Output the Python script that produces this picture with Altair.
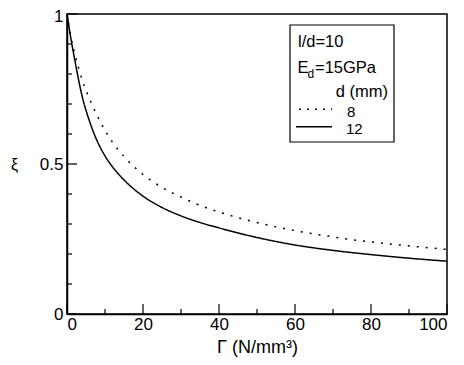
import altair as alt
import pandas as pd

# Data
gamma = [0, 1, 2, 4, 6, 8, 10, 12, 15, 20, 25, 30, 35, 40, 50, 60, 70, 80, 90, 100]
xi_d8 = [1.0, 0.925, 0.87, 0.78, 0.715, 0.66, 0.612, 0.572, 0.525, 0.465, 0.422,
         0.39, 0.362, 0.34, 0.305, 0.278, 0.257, 0.24, 0.227, 0.215]
xi_d12 = [1.0, 0.92, 0.85, 0.725, 0.64, 0.575, 0.527, 0.49, 0.447, 0.393, 0.355,
          0.327, 0.305, 0.287, 0.255, 0.23, 0.212, 0.198, 0.186, 0.176]
series = ["8", "12"]

x_major = [0, 20, 40, 60, 80, 100]
x_minor = [10, 30, 50, 70, 90]
y_major = [0, 0.5, 1]
y_minor = [0.1, 0.2, 0.3, 0.4, 0.6, 0.7, 0.8, 0.9]

W, H = 380, 300
FONT = "Liberation Sans"

df = pd.DataFrame({
    "gamma": gamma * 2,
    "xi": xi_d8 + xi_d12,
    "d": [series[0]] * len(gamma) + [series[1]] * len(gamma),
})

xscale = alt.Scale(domain=[0, 100], nice=False)
yscale = alt.Scale(domain=[0, 1], nice=False)

lines = alt.Chart(df).mark_line(strokeWidth=1.5, color="black", interpolate="monotone").encode(
    x=alt.X("gamma:Q", scale=xscale,
            axis=alt.Axis(title="Γ  (N/mm³)", values=x_major, ticks=False, tickSize=0,
                          labelPadding=2, titlePadding=6, grid=False, titleFontSize=18)),
    y=alt.Y("xi:Q", scale=yscale,
            axis=alt.Axis(title="ξ", values=y_major, format="~g", ticks=False, tickSize=0,
                          labelPadding=4, grid=False, titleAngle=0, titleX=-53, titleY=150,
                          titleAlign="center", titleBaseline="middle", titleFontSize=16,
                          labelOffset={"condition": {"test": "datum.value == 1", "value": 2},
                                       "value": 0})),
    strokeDash=alt.StrokeDash("d:N", scale=alt.Scale(domain=series, range=[[2, 7], [1, 0]]),
                              legend=None),
    detail="d:N",
)

def xticks(vals, length):
    return alt.Chart(pd.DataFrame({"v": vals})).mark_rule(color="black", strokeWidth=1.2).encode(
        x=alt.X("v:Q", scale=xscale), y=alt.value(H), y2=alt.value(H - length))

def yticks(vals, length):
    return alt.Chart(pd.DataFrame({"v": vals})).mark_rule(color="black", strokeWidth=1.2).encode(
        y=alt.Y("v:Q", scale=yscale), x=alt.value(0), x2=alt.value(length))

box = alt.Chart(pd.DataFrame({"a": [0]})).mark_rect(
    fill="white", stroke="black", strokeWidth=1.2).encode(
    x=alt.value(223), x2=alt.value(327), y=alt.value(11), y2=alt.value(128))

def txt(s, x, y, size=16.5, align="left"):
    return alt.Chart(pd.DataFrame({"t": [s]})).mark_text(
        font=FONT, fontSize=size, align=align, baseline="alphabetic", color="black").encode(
        text="t:N", x=alt.value(x), y=alt.value(y))

def sample(dash, x1, y):
    return alt.Chart(pd.DataFrame({"a": [0]})).mark_rule(
        color="black", strokeWidth=1.5, strokeDash=dash).encode(
        x=alt.value(x1), x2=alt.value(265), y=alt.value(y))

legend = [
    box,
    txt("l/d=10", 231, 32.7),
    txt("E", 230.5, 59.3),
    txt("d", 240.5, 64.3, size=12),
    txt("=15GPa", 248, 59.3),
    txt("d (mm)", 321, 82.7, align="right"),
    sample([2, 6], 232, 95.3),
    sample([1, 0], 229, 112.7),
    txt(series[0], 280, 102.5, size=15),
    txt(series[1], 279, 119.5, size=15),
]

chart = alt.layer(
    lines,
    xticks(x_major, 10), xticks(x_minor, 5),
    yticks(y_major, 10), yticks(y_minor, 5),
    *legend,
).properties(
    width=W, height=H,
    background="white",
    autosize=alt.AutoSizeParams(type="none"),
    padding={"left": 59, "top": 6, "right": 9, "bottom": 43},
).configure_view(
    stroke="black", strokeWidth=1.5
).configure_axis(
    domainColor="black", domainWidth=1.5,
    labelFont=FONT, labelFontSize=17, labelColor="black",
    titleFont=FONT, titleColor="black", titleFontWeight="normal",
)

chart.save("out.html", embed_options={"renderer": "svg", "actions": False})
